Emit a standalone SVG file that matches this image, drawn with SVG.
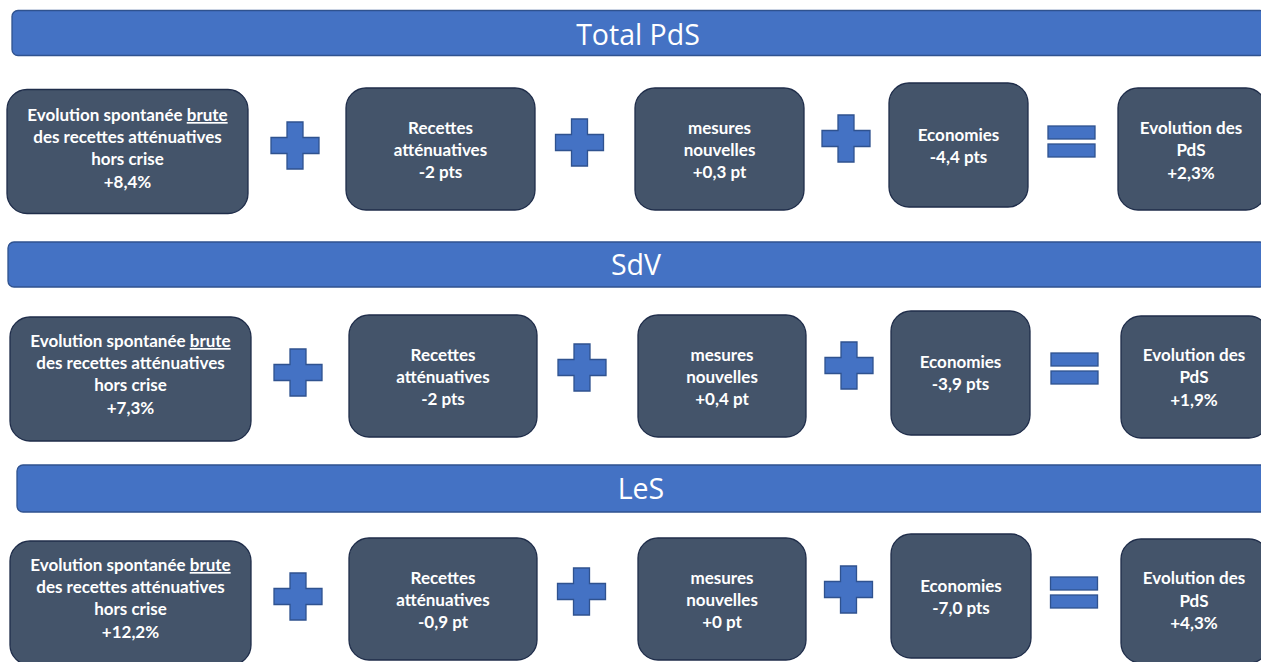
<svg xmlns="http://www.w3.org/2000/svg" width="1261" height="662" viewBox="0 0 1261 662">
  <style>
    .banner { fill: #4472C4; stroke: #2F528F; stroke-width: 1.3; }
    .title { fill: #FFFFFF; font-family: "Open Sans", "Liberation Sans", sans-serif; font-size: 28.5px; text-anchor: middle; }
    .box { fill: #44546A; stroke: #1F2D4A; stroke-width: 1.3; }
    .lbl { fill: #FFFFFF; font-family: Lato, "Liberation Sans", sans-serif; font-weight: bold; font-size: 17px; text-anchor: middle; }
    .op { fill: #4472C4; stroke: #2F528F; stroke-width: 1.3; }
  </style>
  <defs>
    <!-- plus sign, 48x47, arm thickness 16 -->
    <path id="plus" d="M16,0 H32 V15.5 H48 V31.5 H32 V47 H16 V31.5 H0 V15.5 H16 Z"/>
    <!-- equals sign, 47x31 -->
    <g id="equals">
      <rect x="0" y="0" width="47" height="13"/>
      <rect x="0" y="18" width="47" height="13"/>
    </g>
  </defs>
  <rect width="1261" height="662" fill="#FFFFFF"/>

  <!-- ===== Total PdS ===== -->
  <g id="banner-total">
    <rect class="banner" x="12" y="10.5" width="1254" height="45" rx="6"/>
    <text class="title" x="638" y="45">Total PdS</text>
  </g>
  <g id="total-evol-brute">
    <rect class="box" x="7" y="89.5" width="241" height="124" rx="20"/>
    <text class="lbl" x="127.5" y="121">Evolution spontanée <tspan text-decoration="underline">brute</tspan></text>
    <text class="lbl" x="127.5" y="143">des recettes atténuatives</text>
    <text class="lbl" x="127.5" y="164.5">hors crise</text>
    <text class="lbl" x="127.5" y="187.5">+8,4%</text>
  </g>
  <g id="total-recettes">
    <rect class="box" x="346" y="88" width="189" height="122" rx="20"/>
    <text class="lbl" x="440.5" y="134">Recettes</text>
    <text class="lbl" x="440.5" y="156">atténuatives</text>
    <text class="lbl" x="440.5" y="178">-2 pts</text>
  </g>
  <g id="total-mesures">
    <rect class="box" x="635" y="88" width="169" height="122" rx="20"/>
    <text class="lbl" x="719.5" y="134">mesures</text>
    <text class="lbl" x="719.5" y="156">nouvelles</text>
    <text class="lbl" x="719.5" y="178">+0,3 pt</text>
  </g>
  <g id="total-economies">
    <rect class="box" x="889" y="83" width="139" height="124" rx="20"/>
    <text class="lbl" x="958.5" y="141">Economies</text>
    <text class="lbl" x="958.5" y="163">-4,4 pts</text>
  </g>
  <g id="total-evolution">
    <rect class="box" x="1118" y="88" width="148" height="122" rx="20"/>
    <text class="lbl" x="1191" y="134">Evolution des</text>
    <text class="lbl" x="1191" y="156">PdS</text>
    <text class="lbl" x="1191" y="178.5">+2,3%</text>
  </g>

  <!-- ===== SdV ===== -->
  <g id="banner-sdv">
    <rect class="banner" x="8" y="242" width="1258" height="45" rx="6"/>
    <text class="title" x="636" y="275">SdV</text>
  </g>
  <g id="sdv-evol-brute">
    <rect class="box" x="10" y="317" width="241" height="124" rx="20"/>
    <text class="lbl" x="130.5" y="347">Evolution spontanée <tspan text-decoration="underline">brute</tspan></text>
    <text class="lbl" x="130.5" y="369">des recettes atténuatives</text>
    <text class="lbl" x="130.5" y="391">hors crise</text>
    <text class="lbl" x="130.5" y="414">+7,3%</text>
  </g>
  <g id="sdv-recettes">
    <rect class="box" x="349" y="315" width="188" height="122" rx="20"/>
    <text class="lbl" x="443" y="361">Recettes</text>
    <text class="lbl" x="443" y="383">atténuatives</text>
    <text class="lbl" x="443" y="405">-2 pts</text>
  </g>
  <g id="sdv-mesures">
    <rect class="box" x="638" y="315" width="168" height="122" rx="20"/>
    <text class="lbl" x="722" y="361">mesures</text>
    <text class="lbl" x="722" y="383">nouvelles</text>
    <text class="lbl" x="722" y="405">+0,4 pt</text>
  </g>
  <g id="sdv-economies">
    <rect class="box" x="891" y="311" width="139" height="124" rx="20"/>
    <text class="lbl" x="960.5" y="368">Economies</text>
    <text class="lbl" x="960.5" y="390">-3,9 pts</text>
  </g>
  <g id="sdv-evolution">
    <rect class="box" x="1121" y="316" width="148" height="122" rx="20"/>
    <text class="lbl" x="1194" y="361">Evolution des</text>
    <text class="lbl" x="1194" y="383">PdS</text>
    <text class="lbl" x="1194" y="405.5">+1,9%</text>
  </g>

  <!-- ===== LeS ===== -->
  <g id="banner-les">
    <rect class="banner" x="17" y="465" width="1250" height="47" rx="6"/>
    <text class="title" x="641" y="499">LeS</text>
  </g>
  <g id="les-evol-brute">
    <rect class="box" x="10" y="541" width="241" height="124" rx="20"/>
    <text class="lbl" x="130.5" y="571">Evolution spontanée <tspan text-decoration="underline">brute</tspan></text>
    <text class="lbl" x="130.5" y="593">des recettes atténuatives</text>
    <text class="lbl" x="130.5" y="615">hors crise</text>
    <text class="lbl" x="130.5" y="637.5">+12,2%</text>
  </g>
  <g id="les-recettes">
    <rect class="box" x="349" y="538" width="188" height="122" rx="20"/>
    <text class="lbl" x="443" y="584">Recettes</text>
    <text class="lbl" x="443" y="606">atténuatives</text>
    <text class="lbl" x="443" y="628">-0,9 pt</text>
  </g>
  <g id="les-mesures">
    <rect class="box" x="638" y="538" width="168" height="122" rx="20"/>
    <text class="lbl" x="722" y="584">mesures</text>
    <text class="lbl" x="722" y="606">nouvelles</text>
    <text class="lbl" x="722" y="628">+0 pt</text>
  </g>
  <g id="les-economies">
    <rect class="box" x="891" y="534" width="140" height="124" rx="20"/>
    <text class="lbl" x="961" y="592">Economies</text>
    <text class="lbl" x="961" y="614">-7,0 pts</text>
  </g>
  <g id="les-evolution">
    <rect class="box" x="1121" y="539" width="148" height="124" rx="20"/>
    <text class="lbl" x="1194" y="584">Evolution des</text>
    <text class="lbl" x="1194" y="606.5">PdS</text>
    <text class="lbl" x="1194" y="629">+4,3%</text>
  </g>

  <!-- operators between the boxes -->
  <g id="operators">
    <use href="#plus" class="op" x="271" y="122"/>
    <use href="#plus" class="op" x="555.5" y="119"/>
    <use href="#plus" class="op" x="822" y="115"/>
    <use href="#equals" class="op" x="1048" y="126"/>

    <use href="#plus" class="op" x="274" y="349"/>
    <use href="#plus" class="op" x="558" y="344"/>
    <use href="#plus" class="op" x="825" y="342"/>
    <use href="#equals" class="op" x="1051" y="353"/>

    <use href="#plus" class="op" x="274" y="573"/>
    <use href="#plus" class="op" x="557.5" y="568"/>
    <use href="#plus" class="op" x="824.5" y="566"/>
    <use href="#equals" class="op" x="1050.5" y="577"/>
  </g>
</svg>
